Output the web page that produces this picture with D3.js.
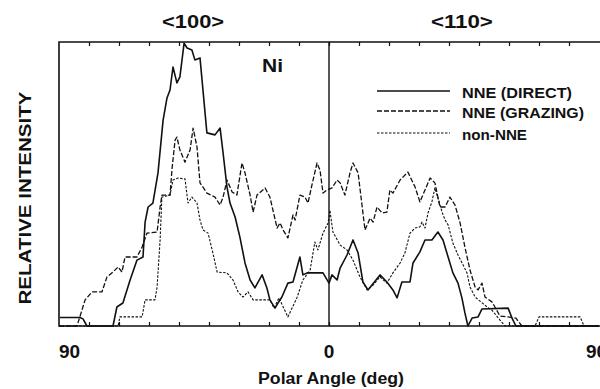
<!DOCTYPE html>
<html>
<head>
<meta charset="utf-8">
<script src="https://cdn.jsdelivr.net/npm/d3@7"></script>
<style>
  body { margin: 0; background: #fff; }
  svg { display: block; }
  text { font-family: "Liberation Sans", Arial, sans-serif; font-weight: bold; fill: #111; }
</style>
</head>
<body>
<div id="chart-area"></div>
<script>
//DATA-------------------------------------------------------------------------
// polar angle (deg, negative = <100> side) and relative intensity
const directData = [[-89.7,0.03],[-83,0.03],[-82,0.025],[-80.7,0],[-72,0],[-70.7,0.067],[-68.7,0.081],[-66.3,0.162],
  [-64,0.232],[-62,0.243],[-61.3,0.366],[-60.3,0.419],[-58.7,0.433],[-57,0.539],[-55.3,0.725],[-54,0.803],[-53,0.831],
  [-52,0.912],[-50.7,0.856],[-49.7,0.877],[-48.3,0.996],[-47.3,0.979],[-45.7,0.972],[-44.7,0.937],[-43,0.944],
  [-40.7,0.68],[-38,0.673],[-36.3,0.697],[-35.3,0.609],[-34,0.489],[-33,0.433],[-31.3,0.384],[-29.7,0.313],[-28,0.222],
  [-26.3,0.162],[-24.7,0.134],[-22.3,0.18],[-20.7,0.134],[-19.7,0.092],[-18,0.063],[-17,0.081],[-15.7,0.102],[-13.7,0.151],
  [-12,0.155],[-9.7,0.243],[-8.7,0.18],[-7.3,0.187],[-2,0.187],[0,0.151],[1,0.18],[2.7,0.162],[3.7,0.204],[6,0.25],
  [8,0.303],[9.7,0.257],[11.3,0.155],[13,0.127],[17,0.18],[19.3,0.155],[21.3,0.127],[22.7,0.099],[24.3,0.155],[27,0.155],
  [28,0.222],[30.3,0.261],[32,0.303],[34.3,0.303],[36.3,0.331],[38,0.303],[39.7,0.243],[41.3,0.187],[43,0.151],
  [44.3,0.099],[45.3,0.046],[46.3,0],[47.7,0.028],[49.7,0.032],[51,0.06],[59.7,0.063],[61,0.028],[62.3,0],[90,0]]

const grazingData = [[-90,0],[-84,0],[-81.3,0.092],[-79,0.12],[-75.7,0.12],[-74,0.173],[-72,0.19],[-70.3,0.208],
  [-69,0.19],[-68,0.243],[-64,0.243],[-62.3,0.278],[-60.7,0.327],[-57.3,0.331],[-56.3,0.419],[-55.7,0.461],[-53,0.461],
  [-52.3,0.556],[-51.3,0.655],[-50.7,0.665],[-49.7,0.62],[-48,0.577],[-46.3,0.62],[-45.3,0.697],[-44,0.63],[-43,0.504],
  [-42,0.489],[-40.7,0.468],[-38,0.454],[-36.3,0.426],[-35.3,0.454],[-34,0.514],[-32.3,0.472],[-30.7,0.461],[-29,0.574],
  [-28,0.539],[-26.3,0.461],[-25.3,0.401],[-24,0.461],[-21.3,0.486],[-19.7,0.454],[-17.3,0.345],[-16.3,0.363],
  [-15.3,0.338],[-13.7,0.31],[-12,0.391],[-11.3,0.373],[-9.7,0.461],[-8,0.454],[-7,0.433],[-5.7,0.496],[-4,0.574],
  [-3,0.549],[-2,0.468],[-0.7,0.479],[1,0.486],[2.7,0.514],[3.7,0.504],[5.3,0.461],[7,0.539],[8,0.574],[9.7,0.539],
  [12,0.338],[13.7,0.38],[14.7,0.366],[16,0.419],[17.7,0.398],[19.3,0.401],[20.3,0.479],[21.3,0.468],[23.7,0.514],
  [26.3,0.542],[28.7,0.489],[30.3,0.437],[32,0.479],[33.7,0.521],[35.3,0.504],[37,0.419],[38.7,0.419],[40.3,0.454],
  [42,0.426],[43.7,0.363],[45.3,0.278],[47,0.197],[48.7,0.137],[49.7,0.127],[51,0.151],[52,0.102],[54.3,0.085],
  [55.3,0.067],[57,0.035],[59.7,0.032],[62.3,0.028],[64.3,0],[90,0]]

const nonNNEData = [[-90,0],[-70.3,0],[-69.7,0.032],[-62.3,0.032],[-61.3,0.092],[-58,0.092],[-57.3,0.137],[-56.3,0.303],
  [-55.7,0.454],[-53,0.461],[-52,0.514],[-50.3,0.521],[-48,0.518],[-47,0.433],[-45.7,0.454],[-44,0.433],[-43,0.373],
  [-42,0.338],[-40.3,0.327],[-38.7,0.257],[-37.3,0.19],[-34,0.187],[-32,0.162],[-30.3,0.12],[-28.7,0.102],[-27,0.12],
  [-25.3,0.092],[-19.7,0.092],[-18.3,0.063],[-16.7,0.099],[-13.7,0.032],[-10.7,0.099],[-8.7,0.162],[-6.3,0.197],
  [-4.7,0.296],[-3.7,0.268],[-2,0.327],[-0.3,0.363],[0.3,0.408],[1.3,0.331],[3.7,0.285],[6,0.268],[8,0.232],
  [10.3,0.173],[12.7,0.127],[14.7,0.144],[17,0.173],[19.3,0.151],[21.3,0.187],[23.7,0.222],[25.3,0.257],[27,0.327],
  [28.7,0.345],[30.3,0.349],[31,0.366],[32,0.345],[33,0.398],[34.3,0.437],[35.3,0.486],[36.3,0.451],[37.7,0.401],
  [38.7,0.373],[39.7,0.356],[41.3,0.292],[43,0.25],[44.7,0.215],[46,0.187],[47,0.137],[48.7,0.102],[52.7,0.067],
  [54.3,0.056],[57,0.021],[58.7,0],[68.7,0],[70,0.032],[83.7,0.032],[85,0],[90,0]]

const seriesNames = ["NNE (DIRECT)", "NNE (GRAZING)", "non-NNE"]
const tickLabels = [-90, 0, 90]
const axisTitles = ["<100>", "<110>"]

//SVG--------------------------------------------------------------------------
const svg = d3.select("#chart-area").append("svg")
  .attr("width", 600)
  .attr("height", 389)

const PLOT = { LEFT: 59, RIGHT: 599, TOP: 42, BOTTOM: 326 }

//SCALES-----------------------------------------------------------------------
const xScale = d3.scaleLinear().domain([-90, 90]).range([PLOT.LEFT, PLOT.RIGHT])
const yScale = d3.scaleLinear().domain([0, 1]).range([PLOT.BOTTOM, PLOT.TOP])

const dashes = ["none", "5,2", "2.5,1.5"]
const widths = [1.6, 1.3, 1.1]

//FRAME & AXES-----------------------------------------------------------------
svg.append("path")
  .attr("d", `M${PLOT.RIGHT + 5},${PLOT.TOP} H${PLOT.LEFT} V${PLOT.BOTTOM} H${PLOT.RIGHT + 5}`)
  .attr("fill", "none")
  .attr("stroke", "#111")
  .attr("stroke-width", 1.6)

svg.append("line")
  .attr("x1", xScale(0)).attr("x2", xScale(0))
  .attr("y1", PLOT.TOP).attr("y2", PLOT.BOTTOM)
  .attr("stroke", "#111").attr("stroke-width", 1.4)

const minorTicks = d3.range(-80, 90, 10)
const gTop = svg.append("g").attr("transform", `translate(0, ${PLOT.TOP})`)
  .call(d3.axisTop(xScale).tickValues(minorTicks).tickFormat("").tickSizeInner(-4).tickSizeOuter(0))
const gBottom = svg.append("g").attr("transform", `translate(0, ${PLOT.BOTTOM})`)
  .call(d3.axisBottom(xScale).tickValues(minorTicks).tickFormat("").tickSizeInner(-4).tickSizeOuter(0))
svg.selectAll(".domain").remove()
svg.selectAll(".tick line").attr("stroke", "#111").attr("stroke-width", 1.2)

// tick labels 90 / 0 / 90 (the right one runs off the edge, as in the scan)
svg.selectAll(".tlabel").data(tickLabels).enter().append("text")
  .attr("class", "tlabel")
  .attr("x", (d, i) => xScale(d) + (i == 2 ? -13 : 0))
  .attr("y", 358)
  .attr("text-anchor", (d, i) => i == 1 ? "middle" : "start")
  .style("font-size", "19px")
  .text(d => Math.abs(d))

// <100> and <110> over the two halves
svg.selectAll(".dir").data(axisTitles).enter().append("text")
  .attr("class", "dir")
  .attr("x", (d, i) => xScale(i == 0 ? -45.3 : 44.3))
  .attr("y", 28)
  .attr("text-anchor", "middle")
  .attr("textLength", 62)
  .attr("lengthAdjust", "spacingAndGlyphs")
  .style("font-size", "19px")
  .text(d => d)

svg.append("text")
  .attr("x", 331).attr("y", 384)
  .attr("text-anchor", "middle")
  .attr("textLength", 146)
  .attr("lengthAdjust", "spacingAndGlyphs")
  .style("font-size", "16px")
  .text("Polar Angle (deg)")

svg.append("text")
  .attr("transform", "translate(31, 198) rotate(-90)")
  .attr("text-anchor", "middle")
  .attr("textLength", 213)
  .attr("lengthAdjust", "spacingAndGlyphs")
  .style("font-size", "16px")
  .text("RELATIVE INTENSITY")

svg.append("text")
  .attr("x", 262).attr("y", 72)
  .attr("textLength", 21)
  .attr("lengthAdjust", "spacingAndGlyphs")
  .style("font-size", "18px")
  .text("Ni")

//LINES------------------------------------------------------------------------
const line = d3.line()
  .x(d => xScale(d[0]))
  .y(d => yScale(d[1]))

svg.selectAll(".curve").data([directData, grazingData, nonNNEData]).enter().append("path")
  .attr("class", "curve")
  .attr("d", line)
  .attr("fill", "none")
  .attr("stroke", "#111")
  .attr("stroke-width", (d, i) => widths[i])
  .attr("stroke-dasharray", (d, i) => dashes[i])
  .attr("stroke-linejoin", "round")

//LEGEND-----------------------------------------------------------------------
const legendY = [91, 111, 133]
const legendLen = [110, 122, 65]
const legend = svg.selectAll(".legend").data(seriesNames).enter().append("g")
  .attr("class", "legend")
  .attr("transform", (d, i) => `translate(0, ${legendY[i]})`)
legend.append("line")
  .attr("x1", 377).attr("x2", 450)
  .attr("stroke", "#111")
  .attr("stroke-width", (d, i) => widths[i])
  .attr("stroke-dasharray", (d, i) => dashes[i])
legend.append("text")
  .attr("x", 462).attr("y", 7)
  .attr("textLength", (d, i) => legendLen[i])
  .attr("lengthAdjust", "spacingAndGlyphs")
  .style("font-size", "14px")
  .text(d => d)
</script>
</body>
</html>
